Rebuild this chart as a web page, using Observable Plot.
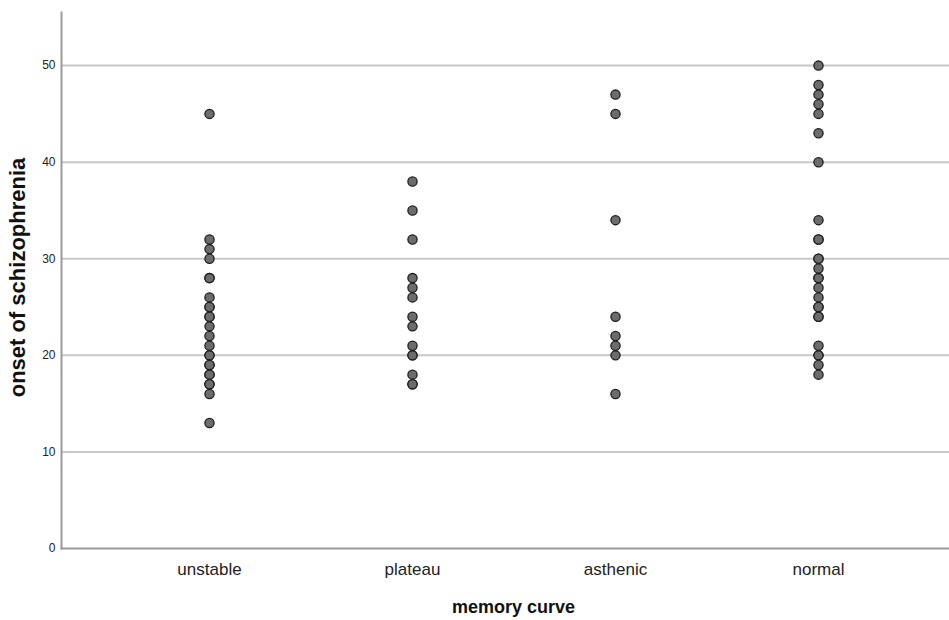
<!DOCTYPE html>
<html>
<head>
<meta charset="utf-8">
<script src="https://cdn.jsdelivr.net/npm/d3@7"></script>
<script src="https://cdn.jsdelivr.net/npm/@observablehq/plot@0.6"></script>
<style>
  html, body { margin: 0; padding: 0; background: #fff; }
  #chart svg { display: block; }
</style>
</head>
<body>
<div id="chart"></div>
<script>
const categories = ["unstable", "plateau", "asthenic", "normal"];
const unstable = [45, 32, 31, 30, 28, 28, 26, 25, 25, 24, 24, 23, 22, 21, 20, 20, 19, 19, 18, 18, 17, 17, 16, 13];
const plateau = [38, 35, 32, 28, 27, 26, 24, 23, 21, 20, 20, 18, 17, 17];
const asthenic = [47, 45, 34, 24, 22, 21, 20, 16];
const normal = [50, 48, 47, 46, 45, 43, 40, 34, 32, 32, 30, 30, 29, 28, 28, 27, 26, 25, 25, 24, 24, 21, 20, 20, 19, 18];
const yTicks = [0, 10, 20, 30, 40, 50];
const gridTicks = [10, 20, 30, 40, 50];

const seriesByCat = { unstable, plateau, asthenic, normal };
const rows = categories.flatMap(c => seriesByCat[c].map(v => ({ curve: c, onset: v })));

const font = "Arial, 'Liberation Sans', sans-serif";

const chart = Plot.plot({
  width: 949,
  height: 620,
  marginTop: 12,
  marginBottom: 72,
  marginLeft: 61,
  marginRight: 0,
  style: { fontFamily: font, background: "#fff", color: "#222" },
  x: { type: "point", domain: categories, padding: 0.68, align: 0.53 },
  y: { domain: [0, 55.5] },
  marks: [
    Plot.ruleY(gridTicks, { stroke: "#c8c8c8", strokeWidth: 2 }),
    Plot.frame({ anchor: "left", stroke: "#9a9a9a", strokeWidth: 2 }),
    Plot.frame({ anchor: "bottom", stroke: "#9a9a9a", strokeWidth: 2 }),
    Plot.axisY({ ticks: yTicks, tickSize: 0, tickPadding: 6, fontSize: 12, fill: "#222", label: null }),
    Plot.axisX({ tickSize: 0, tickPadding: 14, fontSize: 17, fill: "#222", label: null }),
    Plot.dot(rows, { x: "curve", y: "onset", r: 4.6, fill: "#6c6c6c", stroke: "#1e1e1e", strokeWidth: 1.3 }),
    Plot.text(["onset of schizophrenia"], { frameAnchor: "left", textAnchor: "middle", rotate: -90, dx: -44, dy: -3, fontSize: 22, fontWeight: "bold", fill: "#111" }),
    Plot.text(["memory curve"], { frameAnchor: "bottom", dy: 64, dx: 8, fontSize: 18, fontWeight: "bold", fill: "#111" })
  ]
});
document.getElementById("chart").appendChild(chart);
</script>
</body>
</html>
